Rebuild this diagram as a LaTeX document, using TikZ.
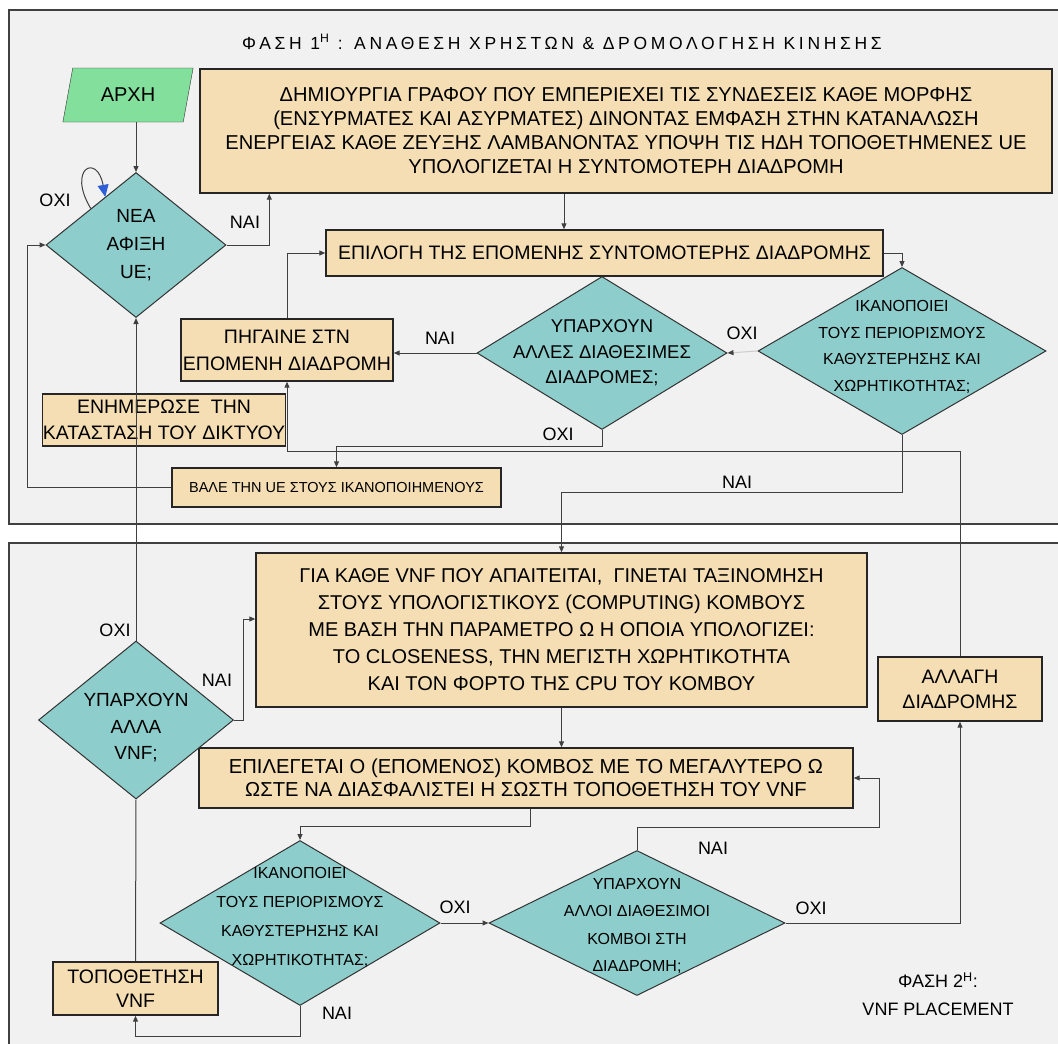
\documentclass[tikz,border=0pt]{standalone}
\usepackage{fontspec}
\setmainfont{Liberation Sans}
\newfontfamily\titlefont[LetterSpace = 21]{Liberation Sans}
\usetikzlibrary{positioning}
\usetikzlibrary{calc}
\usetikzlibrary{shapes.geometric}
\usetikzlibrary{arrows.meta}

\definecolor{panelgray}{HTML}{F1F1F1}
\definecolor{boxtan}{HTML}{F5DEB3}
\definecolor{qteal}{HTML}{8DCDCB}
\definecolor{startgreen}{HTML}{82E09C}
\definecolor{wiregray}{HTML}{404040}
\definecolor{loopblue}{HTML}{2F5FD8}

\tikzset{
	panel/.style = {draw = wiregray, fill = panelgray, line width = 1.2pt},
	procbox/.style = {draw = black!85, fill = boxtan, line width = 1.4pt, align = center, inner sep = 0pt, font = \fontsize{19.5}{26}\selectfont},
	decision/.style = {diamond, draw = black!80, fill = qteal, line width = 1pt, inner sep = 0pt},
	qtext/.style = {align = center},
	wire/.style = {draw = wiregray, line width = 1pt},
	flow/.style = {wire, -{Triangle[length = 6pt, width = 5pt]}},
	answer/.style = {font = \fontsize{18}{18}\selectfont}
}

\begin{document}
\begin{tikzpicture}[x = 1pt, y = -1pt]
	\useasboundingbox (0, 0) rectangle (1058, 1044);
	\draw [panel] (9, 10) rectangle (1080, 524);
	\draw [panel] (9, 543) rectangle (1080, 1070);

	\node (title) at (562, 42) {\titlefont\fontsize{17.5}{17.5}\selectfont ΦΑΣΗ 1\textsuperscript{Η} : ΑΝΑΘΕΣΗ ΧΡΗΣΤΩΝ \& ΔΡΟΜΟΛΟΓΗΣΗ ΚΙΝΗΣΗΣ};
	\node [trapezium, trapezium left angle = 75, trapezium right angle = 105, trapezium stretches, minimum width = 131pt, minimum height = 54pt, draw = black!80, fill = startgreen, font = \fontsize{20}{20}\selectfont] (start) at (128, 95) {ΑΡΧΗ};
	\node [procbox, minimum width = 852pt, minimum height = 124pt, font = \fontsize{20.1}{24}\selectfont] (graph) at (626, 131) {ΔΗΜΙΟΥΡΓΙΑ ΓΡΑΦΟΥ ΠΟΥ ΕΜΠΕΡΙΕΧΕΙ ΤΙΣ ΣΥΝΔΕΣΕΙΣ ΚΑΘΕ ΜΟΡΦΗΣ\\(ΕΝΣΥΡΜΑΤΕΣ ΚΑΙ ΑΣΥΡΜΑΤΕΣ) ΔΙΝΟΝΤΑΣ ΕΜΦΑΣΗ ΣΤΗΝ ΚΑΤΑΝΑΛΩΣΗ\\ΕΝΕΡΓΕΙΑΣ ΚΑΘΕ ΖΕΥΞΗΣ ΛΑΜΒΑΝΟΝΤΑΣ ΥΠΟΨΗ ΤΙΣ ΗΔΗ ΤΟΠΟΘΕΤΗΜΕΝΕΣ UE\\ΥΠΟΛΟΓΙΖΕΤΑΙ Η ΣΥΝΤΟΜΟΤΕΡΗ ΔΙΑΔΡΟΜΗ};
	\node [procbox, minimum width = 557pt, minimum height = 46pt] (choose) at (604.5, 253) {ΕΠΙΛΟΓΗ ΤΗΣ ΕΠΟΜΕΝΗΣ ΣΥΝΤΟΜΟΤΕΡΗΣ ΔΙΑΔΡΟΜΗΣ};
	\node [decision, minimum width = 180pt, minimum height = 145pt, label = {[qtext, font = \fontsize{19}{28}\selectfont]center:ΝΕΑ\\ΑΦΙΞΗ\\UE;}] (newue) at (136, 245) {};
	\node [decision, minimum width = 250pt, minimum height = 153pt, label = {[qtext, font = \fontsize{18.5}{25.5}\selectfont]center:ΥΠΑΡΧΟΥΝ\\ΑΛΛΕΣ ΔΙΑΘΕΣΙΜΕΣ\\ΔΙΑΔΡΟΜΕΣ;}] (otherroutes) at (602, 353) {};
	\node [decision, minimum width = 288pt, minimum height = 167pt, label = {[qtext, font = \fontsize{16}{26.5}\selectfont, yshift = 4pt]center:ΙΚΑΝΟΠΟΙΕΙ\\ΤΟΥΣ ΠΕΡΙΟΡΙΣΜΟΥΣ\\ΚΑΘΥΣΤΕΡΗΣΗΣ ΚΑΙ\\ΧΩΡΗΤΙΚΟΤΗΤΑΣ;}] (limits) at (902, 351) {};
	\node [procbox, minimum width = 212pt, minimum height = 62pt, font = \fontsize{19.5}{27}\selectfont] (nextroute) at (287, 350) {ΠΗΓΑΙΝΕ ΣΤΝ\\ΕΠΟΜΕΝΗ ΔΙΑΔΡΟΜΗ};
	\node [procbox, minimum width = 226pt, minimum height = 52pt] (netstate) at (164, 420) {ΕΝΗΜΕΡΩΣΕ~~ΤΗΝ\\ΚΑΤΑΣΤΑΣΗ ΤΟΥ ΔΙΚΤΥΟΥ};
	\node [procbox, minimum width = 329pt, minimum height = 39pt, font = \fontsize{14.5}{14.5}\selectfont] (satisfied) at (336.5, 487.5) {ΒΑΛΕ ΤΗΝ UE ΣΤΟΥΣ ΙΚΑΝΟΠΟΙΗΜΕΝΟΥΣ};

	\node [procbox, minimum width = 611pt, minimum height = 154pt, font = \fontsize{20}{27}\selectfont] (ranking) at (561.5, 630) {ΓΙΑ ΚΑΘΕ VNF ΠΟΥ ΑΠΑΙΤΕΙΤΑΙ,~~ΓΙΝΕΤΑΙ ΤΑΞΙΝΟΜΗΣΗ\\ΣΤΟΥΣ ΥΠΟΛΟΓΙΣΤΙΚΟΥΣ (COMPUTING) ΚΟΜΒΟΥΣ\\ΜΕ ΒΑΣΗ ΤΗΝ ΠΑΡΑΜΕΤΡΟ Ω Η ΟΠΟΙΑ ΥΠΟΛΟΓΙΖΕΙ:\\ΤΟ CLOSENESS, ΤΗΝ ΜΕΓΙΣΤΗ ΧΩΡΗΤΙΚΟΤΗΤΑ\\ΚΑΙ ΤΟΝ ΦΟΡΤΟ ΤΗΣ CPU ΤΟΥ ΚΟΜΒΟΥ};
	\node [procbox, minimum width = 654pt, minimum height = 60pt, font = \fontsize{20.2}{23}\selectfont] (pickhost) at (526, 778) {ΕΠΙΛΕΓΕΤΑΙ Ο (ΕΠΟΜΕΝΟΣ) ΚΟΜΒΟΣ ΜΕ ΤΟ ΜΕΓΑΛΥΤΕΡΟ Ω\\ΩΣΤΕ ΝΑ ΔΙΑΣΦΑΛΙΣΤΕΙ Η ΣΩΣΤΗ ΤΟΠΟΘΕΤΗΣΗ ΤΟΥ VNF};
	\node [procbox, minimum width = 164pt, minimum height = 64pt, font = \fontsize{19.5}{25}\selectfont] (reroute) at (960, 689) {ΑΛΛΑΓΗ\\ΔΙΑΔΡΟΜΗΣ};
	\node [procbox, minimum width = 165pt, minimum height = 53pt, font = \fontsize{19.5}{24}\selectfont] (placevnf) at (135.5, 988.5) {ΤΟΠΟΘΕΤΗΣΗ\\VNF};
	\node [decision, minimum width = 195pt, minimum height = 158pt, label = {[qtext, font = \fontsize{19}{26.5}\selectfont, yshift = -8pt]center:ΥΠΑΡΧΟΥΝ\\ΑΛΛΑ\\VNF;}] (morevnf) at (136, 720) {};
	\node [decision, minimum width = 280pt, minimum height = 165pt, label = {[qtext, font = \fontsize{16}{29}\selectfont, yshift = 6pt]center:ΙΚΑΝΟΠΟΙΕΙ\\ΤΟΥΣ ΠΕΡΙΟΡΙΣΜΟΥΣ\\ΚΑΘΥΣΤΕΡΗΣΗΣ ΚΑΙ\\ΧΩΡΗΤΙΚΟΤΗΤΑΣ;}] (fits) at (300, 923) {};
	\node [decision, minimum width = 296pt, minimum height = 145pt, label = {[qtext, font = \fontsize{16}{27.5}\selectfont, yshift = -3pt]center:ΥΠΑΡΧΟΥΝ\\ΑΛΛΟΙ ΔΙΑΘΕΣΙΜΟΙ\\ΚΟΜΒΟΙ ΣΤΗ\\ΔΙΑΔΡΟΜΗ;}] (morehosts) at (637, 923) {};
	\node [font = \fontsize{18}{28}\selectfont, align = center] (phase) at (938, 994) {ΦΑΣΗ 2\textsuperscript{Η}:\\VNF PLACEMENT};

	\node [answer] (loopno) at (55, 200) {ΟΧΙ};
	\node [answer] (arriveyes) at (245, 222) {ΝΑΙ};
	\node [answer] (routeyes) at (440, 338) {ΝΑΙ};
	\node [answer] (limitno) at (742, 333) {ΟΧΙ};
	\node [answer] (routeno) at (558, 434) {ΟΧΙ};
	\node [answer] (limityes) at (737, 482) {ΝΑΙ};
	\node [answer] (vnfno) at (115, 630) {ΟΧΙ};
	\node [answer] (vnfyes) at (217, 680) {ΝΑΙ};
	\node [answer] (fitno) at (455, 907) {ΟΧΙ};
	\node [answer] (hostyes) at (713, 848) {ΝΑΙ};
	\node [answer] (hostno) at (811, 908) {ΟΧΙ};
	\node [answer] (fityes) at (337, 1013) {ΝΑΙ};

	\draw [flow] (start.south -| newue.north) -- (newue.north);
	\draw [wire, -{Triangle[length = 12pt, width = 11pt, color = loopblue]}] (newue.north west) .. controls +(-24, -40) and +(-8, -44) .. ($(newue.north west)!0.32!(newue.north)$);
	\draw [flow] (newue.east) -| ([xshift = 70pt]graph.south west);
	\draw [flow] ([xshift = -62pt]graph.south) -- ([xshift = -62pt]graph.south |- choose.north);
	\draw [flow] (choose.east) -| (limits.north);
	\draw [wire, draw = black!20, -{Triangle[length = 6pt, width = 5pt, color = wiregray]}] (limits.west) -- (otherroutes.east);
	\draw [flow] (otherroutes.west) -- (otherroutes.west -| nextroute.east);
	\draw [flow] (otherroutes.south) -- ++(0, 16) -| (satisfied.north);
	\draw [flow] (satisfied.west) -- ++(-144, 0) |- (newue.west);
	\draw [flow] (nextroute.north) |- (choose.west);
	\draw [flow] (limits.south) -- ++(0, 57) -| (ranking.north);
	\draw [flow] (reroute.north) -- ++(0, -205) -| (nextroute.south);
	\draw [flow] (morevnf.north) -- (newue.south);
	\draw [flow] (morevnf.east) -- ++(9, 0) |- ([yshift = 11pt]ranking.west);
	\draw [flow] (ranking.south) -- (ranking.south |- pickhost.north);
	\draw [flow] ([xshift = 4pt]pickhost.south) -- ++(0, 18) -| (fits.north);
	\draw [flow] (fits.east) -- (morehosts.west);
	\draw [flow] (morehosts.north) -- ++(0, -23) -- ++(242, 0) |- (pickhost.east);
	\draw [flow] (morehosts.east) -| (reroute.south);
	\draw [flow] (fits.south) -- ++(0, 30) -| (placevnf.south);
	\draw [wire] (placevnf.north) -- (morevnf.south);
\end{tikzpicture}
\end{document}
